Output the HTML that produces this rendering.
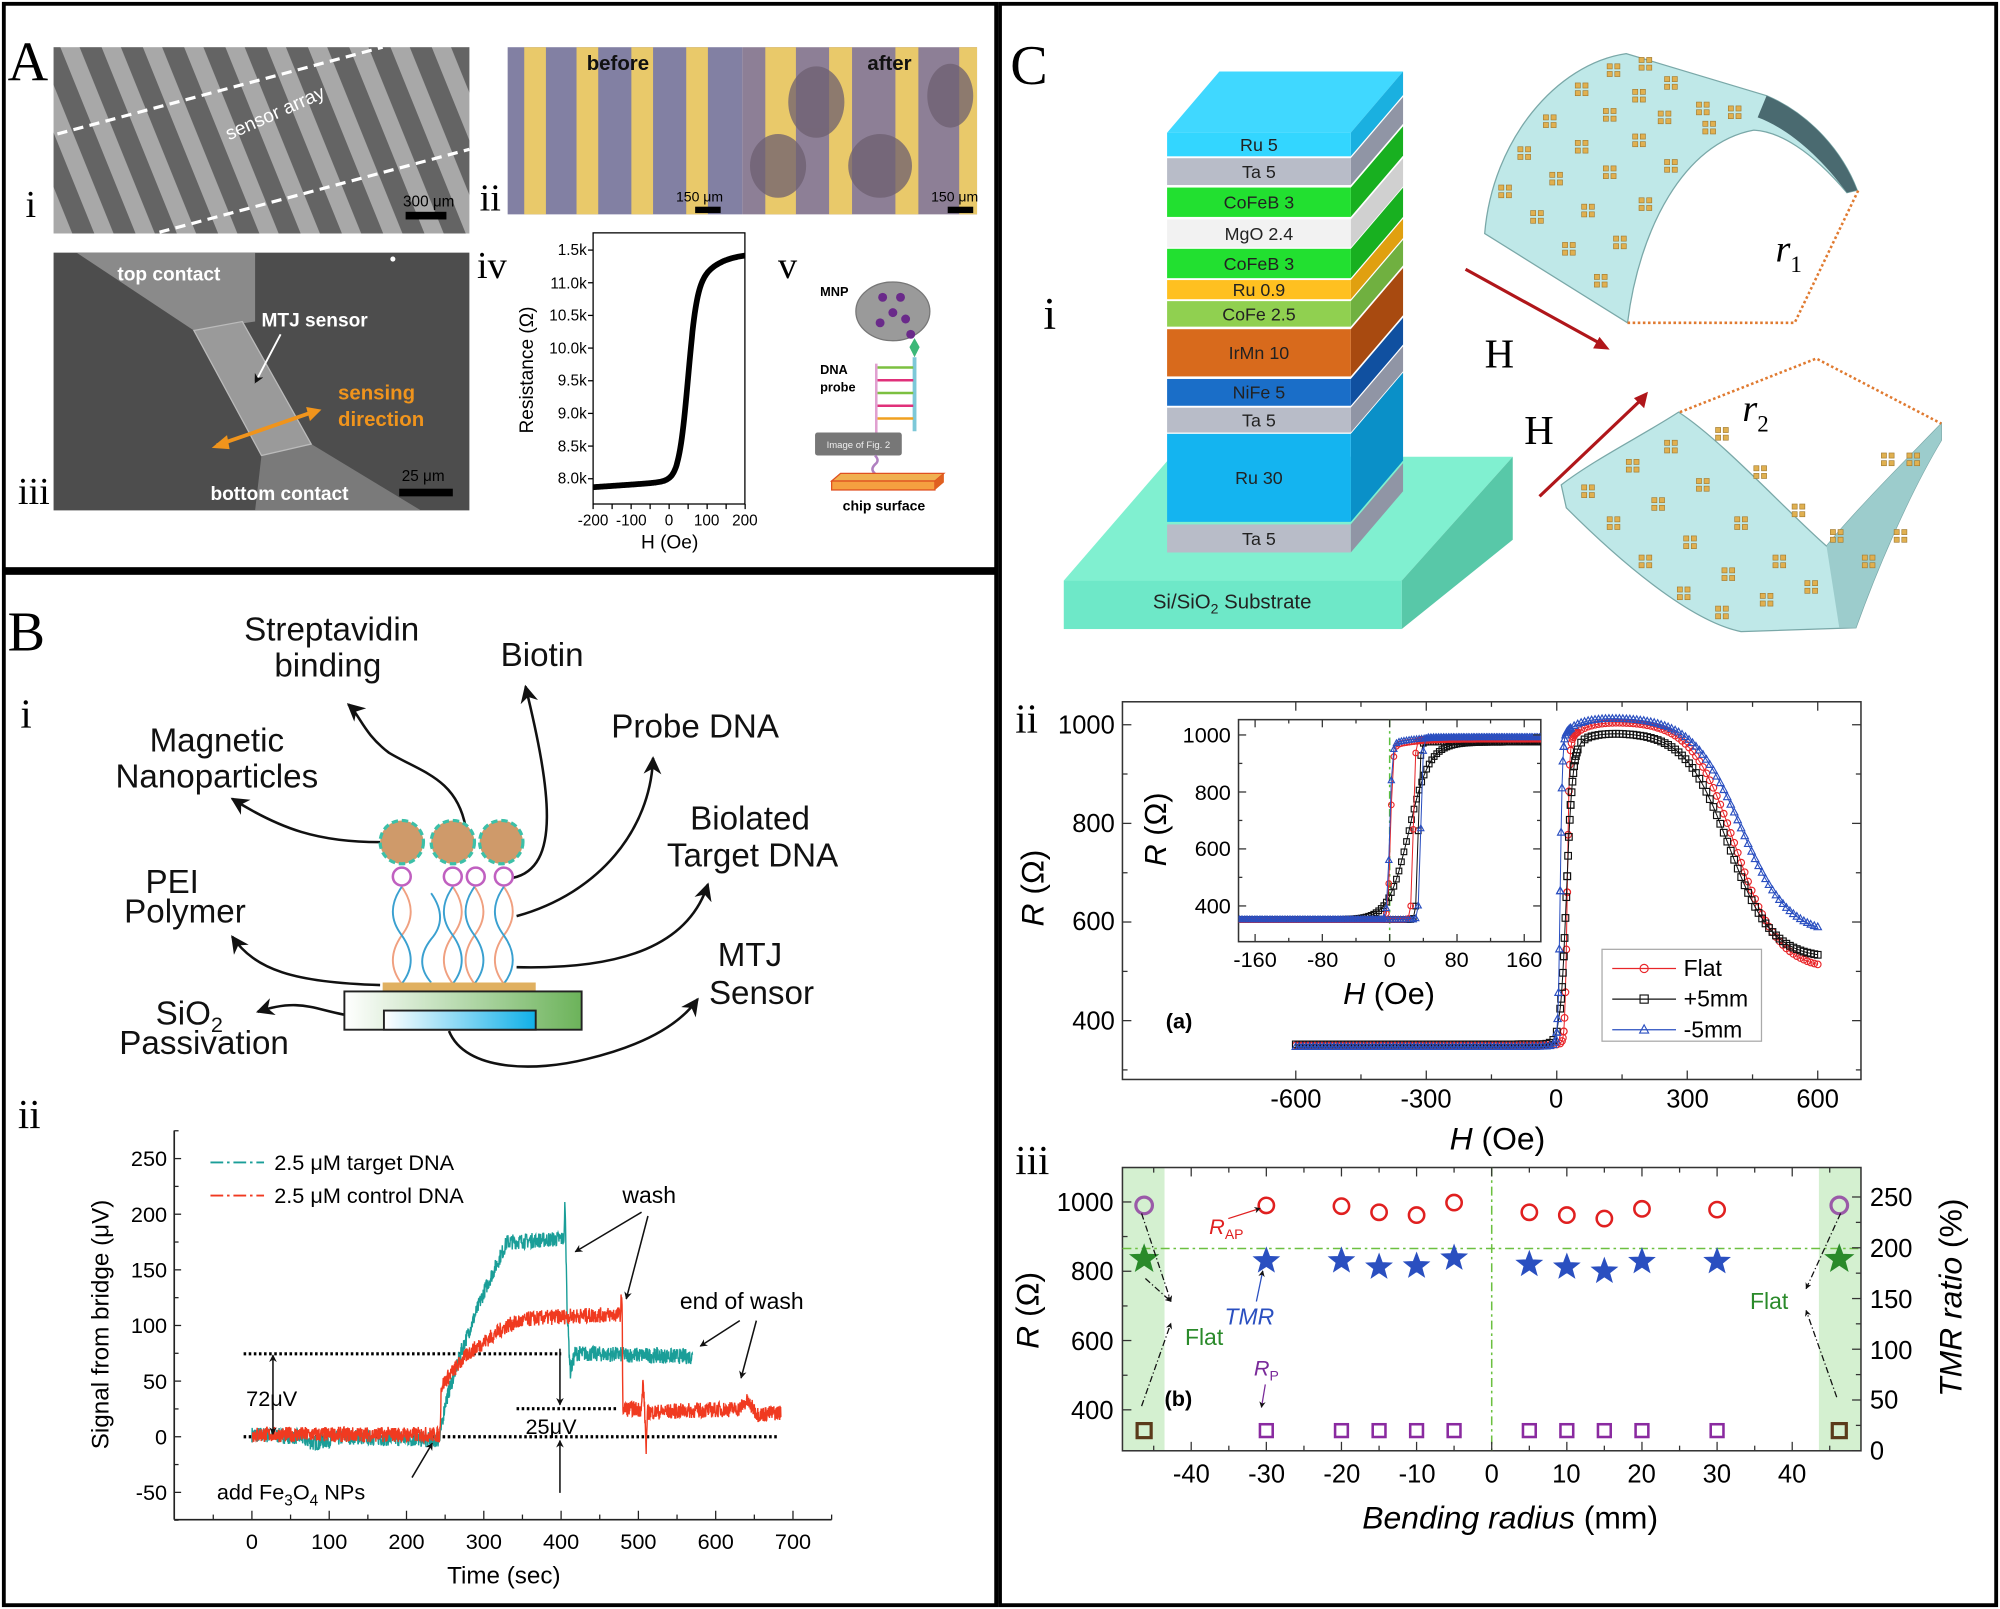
<!DOCTYPE html>
<html><head><meta charset="utf-8"><style>
html,body{margin:0;padding:0;background:#fff;}
svg{display:block;}
text{font-family:"Liberation Sans",sans-serif;}
.sf{font-family:"Liberation Serif",serif;}
</style></head><body>
<svg xmlns="http://www.w3.org/2000/svg" width="2000" height="1609" viewBox="0 0 1568 1261" preserveAspectRatio="none">
<defs>
<pattern id="stA" width="30" height="30" patternUnits="userSpaceOnUse" patternTransform="rotate(-22)">
<rect width="30" height="30" fill="#6a6a6a"/><rect x="0" width="14" height="30" fill="#c4c4c4"/></pattern>
<linearGradient id="chipg" x1="0" x2="1"><stop offset="0" stop-color="#fff"/><stop offset="1" stop-color="#6cb35a"/></linearGradient>
<linearGradient id="blueg" x1="0" x2="1"><stop offset="0" stop-color="#fff"/><stop offset="1" stop-color="#10b0e8"/></linearGradient>
<marker id="ah" viewBox="0 0 10 10" refX="9" refY="5" markerWidth="7" markerHeight="7" orient="auto-start-reverse"><path d="M0,0 L10,5 L0,10 L3,5 z" fill="#111"/></marker>
<marker id="ahs" viewBox="0 0 10 10" refX="9" refY="5" markerWidth="5" markerHeight="5" orient="auto-start-reverse"><path d="M0,0 L10,5 L0,10 L3,5 z" fill="#111"/></marker>
<clipPath id="inclip"><rect x="971" y="564" width="237" height="174"/></clipPath>
<clipPath id="mainclip"><rect x="880" y="550" width="579" height="296"/></clipPath>
</defs>
<rect width="1568" height="1261" fill="#fff"/>
<rect x="3" y="3" width="778" height="443" fill="none" stroke="#000" stroke-width="3"/>
<rect x="3" y="449" width="778" height="809" fill="none" stroke="#000" stroke-width="3"/>
<rect x="784" y="3" width="781" height="1255" fill="none" stroke="#000" stroke-width="3"/>

<!-- ===== Panel A ===== -->
<text x="6" y="63" class="sf" font-size="44">A</text>
<text x="20" y="170" class="sf" font-size="30">i</text>
<text x="376" y="165" class="sf" font-size="30">ii</text>
<text x="14" y="395" class="sf" font-size="30">iii</text>
<text x="374" y="218" class="sf" font-size="30">iv</text>
<text x="610" y="218" class="sf" font-size="30">v</text>
<rect x="42" y="37" width="326" height="146" fill="url(#stA)"/>
<rect x="42" y="37" width="326" height="146" fill="#555" opacity="0.25"/>
<line x1="45" y1="105" x2="300" y2="37" stroke="#fff" stroke-width="2.5" stroke-dasharray="8,5"/>
<line x1="125" y1="182" x2="368" y2="117" stroke="#fff" stroke-width="2.5" stroke-dasharray="8,5"/>
<text x="170" y="95" fill="#fff" font-size="15" transform="rotate(-24 210 80)">sensor array</text>
<text x="316" y="162" fill="#000" font-size="12">300 μm</text>
<rect x="318" y="166" width="32" height="6" fill="#000"/>
<rect x="398" y="37" width="184" height="131" fill="#8280a3"/>
<rect x="582" y="37" width="184" height="131" fill="#8d7f96"/>
<g fill="#e9c96a">
<rect x="411" y="37" width="17" height="131"/><rect x="452" y="37" width="17" height="131"/>
<rect x="495" y="37" width="17" height="131"/><rect x="538" y="37" width="17" height="131"/>
<rect x="600" y="37" width="24" height="131"/><rect x="650" y="37" width="18" height="131"/>
<rect x="702" y="37" width="18" height="131"/><rect x="752" y="37" width="14" height="131"/>
</g>
<g fill="#6d5f70" opacity="0.75">
<ellipse cx="640" cy="80" rx="22" ry="28"/><ellipse cx="610" cy="130" rx="22" ry="25"/><ellipse cx="690" cy="130" rx="25" ry="25"/><ellipse cx="745" cy="75" rx="18" ry="25"/>
</g>
<text x="460" y="55" font-size="16" font-weight="bold" fill="#111">before</text>
<text x="680" y="55" font-size="16" font-weight="bold" fill="#111">after</text>
<text x="530" y="158" font-size="11" fill="#000">150 μm</text><rect x="545" y="162" width="20" height="5" fill="#000"/>
<text x="730" y="158" font-size="11" fill="#000">150 μm</text><rect x="743" y="162" width="20" height="5" fill="#000"/>
<rect x="42" y="198" width="326" height="202" fill="#4d4d4d"/>
<polygon points="60,198 200,198 200,252 152,259" fill="#8a8a8a"/>
<polygon points="205,357 244,348 330,400 200,400" fill="#7a7a7a"/>
<polygon points="152,259 190,252 244,348 205,357" fill="#9a9a9a" stroke="#bbb" stroke-width="1"/>
<circle cx="308" cy="203" r="2" fill="#fff"/>
<text x="92" y="220" font-size="15" font-weight="bold" fill="#fff">top contact</text>
<text x="205" y="256" font-size="15" font-weight="bold" fill="#fff">MTJ sensor</text>
<line x1="220" y1="262" x2="200" y2="300" stroke="#fff" stroke-width="1.5" marker-end="url(#ahs)"/>
<text x="265" y="313" font-size="16" font-weight="bold" fill="#f0941c">sensing</text>
<text x="265" y="334" font-size="16" font-weight="bold" fill="#f0941c">direction</text>
<line x1="170" y1="349" x2="248" y2="322" stroke="#f0941c" stroke-width="3"/>
<polygon points="166,351 178,341 180,352" fill="#f0941c"/><polygon points="252,321 240,319 243,330" fill="#f0941c"/>
<text x="165" y="392" font-size="15" font-weight="bold" fill="#fff">bottom contact</text>
<text x="315" y="377" font-size="12" fill="#000">25 μm</text>
<rect x="313" y="383" width="42" height="6" fill="#000"/>
<rect x="465" y="182.5" width="119" height="212.5" fill="none" stroke="#000" stroke-width="1"/>
<g font-size="12" text-anchor="end" fill="#000">
<text x="460" y="200">1.5k</text><text x="460" y="226">11.0k</text><text x="460" y="251">10.5k</text><text x="460" y="277">10.0k</text>
<text x="460" y="302">9.5k</text><text x="460" y="328">9.0k</text><text x="460" y="354">8.5k</text><text x="460" y="379">8.0k</text>
</g>
<g stroke="#000" stroke-width="1" id="aivticks"></g>
<g font-size="12" text-anchor="middle"><text x="465" y="412">-200</text><text x="495" y="412">-100</text><text x="524.5" y="412">0</text><text x="554" y="412">100</text><text x="584" y="412">200</text></g>
<text x="525" y="430" font-size="15" text-anchor="middle">H (Oe)</text>
<text x="0" y="0" font-size="15" text-anchor="middle" transform="translate(418 290) rotate(-90)">Resistance (Ω)</text>
<g id="aiv"></g>
<!-- A v -->
<ellipse cx="700" cy="244" rx="29" ry="23" fill="#9a9a9a" stroke="#777"/>
<g fill="#6a2a8a"><circle cx="692" cy="233" r="3.5"/><circle cx="706" cy="233" r="3.5"/><circle cx="700" cy="245" r="3.5"/><circle cx="690" cy="253" r="3.5"/><circle cx="710" cy="250" r="3.5"/><circle cx="714" cy="262" r="3.5"/></g>
<path d="M717,265 L721,272 L717,280 L713,272 z" fill="#3cb878"/>
<text x="643" y="232" font-size="10" font-weight="bold">MNP</text>
<text x="643" y="293" font-size="10" font-weight="bold">DNA</text>
<text x="643" y="307" font-size="10" font-weight="bold">probe</text>
<line x1="717" y1="280" x2="717" y2="338" stroke="#7cc8d8" stroke-width="3"/>
<line x1="687" y1="285" x2="687" y2="340" stroke="#e0a0d0" stroke-width="2"/>
<g stroke-width="2"><line x1="688" y1="288" x2="716" y2="288" stroke="#7cc040"/><line x1="688" y1="298" x2="716" y2="298" stroke="#e0307a"/><line x1="688" y1="308" x2="716" y2="308" stroke="#7cc040"/><line x1="688" y1="318" x2="716" y2="318" stroke="#e0307a"/><line x1="688" y1="328" x2="716" y2="328" stroke="#f0a020"/></g>
<rect x="639" y="339" width="68" height="18" fill="#777" rx="2"/>
<text x="673" y="351" font-size="7.5" fill="#eee" text-anchor="middle">Image of Fig. 2</text>
<path d="M686,357 q4,4 0,7 q-4,4 0,7" stroke="#b080c0" fill="none" stroke-width="2"/>
<polygon points="652,377 733,377 740,371 659,371" fill="#f0b050" stroke="#e05020"/>
<rect x="652" y="377" width="81" height="7" fill="#f5a040" stroke="#e05020"/>
<polygon points="733,377 740,371 740,378 733,384" fill="#e06020"/>
<text x="693" y="400" font-size="11" font-weight="bold" text-anchor="middle">chip surface</text>

<!-- ===== Panel B ===== -->
<text x="6" y="510" class="sf" font-size="44">B</text>
<text x="16" y="570" class="sf" font-size="32">i</text>
<g font-size="26" text-anchor="middle" fill="#111">
<text x="260" y="502">Streptavidin</text><text x="257" y="530">binding</text>
<text x="425" y="522">Biotin</text><text x="545" y="578">Probe DNA</text>
<text x="170" y="589">Magnetic</text><text x="170" y="617">Nanoparticles</text>
<text x="588" y="650">Biolated</text><text x="590" y="679">Target DNA</text>
<text x="135" y="700">PEI</text><text x="145" y="723">Polymer</text>
<text x="588" y="757">MTJ</text><text x="597" y="787">Sensor</text>
<text x="160" y="826">Passivation</text>
</g>
<text x="122" y="803" font-size="26" fill="#111">SiO<tspan font-size="17" dy="6">2</tspan></text>
<g fill="none" stroke="#111" stroke-width="2" marker-end="url(#ah)">
<path d="M298,660 C250,660 220,650 182,626"/>
<path d="M365,648 C358,610 330,605 305,590 C285,575 282,560 273,552"/>
<path d="M402,688 C440,680 432,620 412,538"/>
<path d="M405,718 C470,700 510,650 512,594"/>
<path d="M405,758 C490,760 540,740 555,693"/>
<path d="M298,772 C230,770 200,760 182,734"/>
<path d="M285,797 C250,795 240,780 202,793"/>
<path d="M352,808 C365,840 420,840 460,830 C510,818 535,800 547,783"/>
</g>
<g stroke-width="1.5" fill="none">
<path d="M315,695 q14,20 0,38 q-14,20 0,38" stroke="#f0a080"/><path d="M315,695 q-14,20 0,38 q14,20 0,38" stroke="#3aa0d0"/>
<path d="M338,700 q14,20 0,36 q-14,18 0,34" stroke="#3aa0d0"/>
<path d="M355,695 q14,20 0,38 q-14,20 0,38" stroke="#f0a080"/><path d="M355,695 q-14,20 0,38 q14,20 0,38" stroke="#3aa0d0"/>
<path d="M372,695 q14,20 0,38 q-14,20 0,38" stroke="#f0a080"/><path d="M372,695 q-14,20 0,38 q14,20 0,38" stroke="#3aa0d0"/>
<path d="M395,695 q14,20 0,38 q-14,20 0,38" stroke="#f0a080"/><path d="M395,695 q-14,20 0,38 q14,20 0,38" stroke="#3aa0d0"/>
</g>
<g fill="#fff" stroke="#c060c0" stroke-width="2"><circle cx="315" cy="687" r="7"/><circle cx="355" cy="687" r="7"/><circle cx="373" cy="687" r="7"/><circle cx="395" cy="687" r="7"/></g>
<g fill="#cf9a6a" stroke="#3cc0a8" stroke-width="2.5" stroke-dasharray="5,3"><circle cx="315" cy="660" r="17"/><circle cx="355" cy="660" r="17"/><circle cx="393" cy="660" r="17"/></g>
<rect x="300" y="770" width="120" height="7" fill="#e0b060"/>
<rect x="270" y="777" width="186" height="30" fill="url(#chipg)" stroke="#222" stroke-width="1.5"/>
<rect x="301" y="792" width="119" height="15" fill="url(#blueg)" stroke="#222" stroke-width="1.5"/>

<!-- B ii -->
<text x="14" y="884" class="sf" font-size="32">ii</text>
<line x1="136.6" y1="886" x2="136.6" y2="1191" stroke="#222" stroke-width="1.3"/>
<line x1="136.6" y1="1191" x2="652" y2="1191" stroke="#222" stroke-width="1.3"/>
<g id="biiticks" stroke="#222" stroke-width="1"></g>
<g font-size="17" text-anchor="end" id="biiyl"></g>
<g font-size="17" text-anchor="middle" id="biixl"></g>
<text x="395" y="1241" font-size="19" text-anchor="middle">Time (sec)</text>
<text x="0" y="0" font-size="19" text-anchor="middle" transform="translate(85 1038) rotate(-90)">Signal from bridge (μV)</text>
<g stroke="#000" stroke-width="2.5" stroke-dasharray="2,2">
<line x1="191" y1="1061" x2="440" y2="1061"/><line x1="191" y1="1126" x2="610" y2="1126"/><line x1="405" y1="1104" x2="485" y2="1104"/>
</g>
<g id="bii"></g>
<line x1="165" y1="911" x2="207" y2="911" stroke="#1a9e98" stroke-width="1.5" stroke-dasharray="10,3,2,3"/>
<line x1="165" y1="937" x2="207" y2="937" stroke="#f03a20" stroke-width="1.5" stroke-dasharray="10,3,2,3"/>
<text x="215" y="917" font-size="17">2.5 μM target DNA</text>
<text x="215" y="943" font-size="17">2.5 μM control DNA</text>
<text x="488" y="943" font-size="18">wash</text>
<text x="533" y="1026" font-size="18">end of wash</text>
<text x="193" y="1102" font-size="17">72μV</text>
<text x="412" y="1124" font-size="17">25μV</text>
<text x="170" y="1175" font-size="17">add Fe<tspan font-size="12" dy="5">3</tspan><tspan dy="-5">O</tspan><tspan font-size="12" dy="5">4</tspan><tspan dy="-5"> NPs</tspan></text>
<g stroke="#111" stroke-width="1.2" fill="none" marker-end="url(#ahs)">
<line x1="503" y1="950" x2="451" y2="981"/><line x1="508" y1="953" x2="491" y2="1018"/>
<line x1="580" y1="1035" x2="549" y2="1055"/><line x1="593" y1="1035" x2="581" y2="1080"/>
<line x1="323" y1="1158" x2="339" y2="1131"/>
<line x1="214" y1="1093" x2="214" y2="1062"/><line x1="214" y1="1093" x2="214" y2="1124"/>
<line x1="439" y1="1057" x2="439" y2="1101"/><line x1="439" y1="1170" x2="439" y2="1129"/>
</g>

<!-- ===== Panel C ===== -->
<text x="792" y="66" class="sf" font-size="44">C</text>
<text x="818" y="258" class="sf" font-size="36">i</text>
<polygon points="834,455 1099,455 1186,358 918,358" fill="#80f0d0"/>
<rect x="834" y="455" width="265" height="38" fill="#6ee8c8"/>
<polygon points="1099,455 1186,358 1186,423 1099,493" fill="#58c8a8"/>
<text x="966" y="477" font-size="16" text-anchor="middle" fill="#222">Si/SiO<tspan font-size="11" dy="4">2</tspan><tspan dy="-4"> Substrate</tspan></text>
<g id="stack"></g>
<!-- top sheet (arch) -->
<path d="M1164,183 C1170,110 1220,50 1275,42 L1385,75 C1420,90 1445,120 1456,149 L1448,151 C1420,118 1395,103 1375,102 C1320,112 1285,180 1276,253 Z" fill="#bfe8e8" stroke="#7aa8a8"/>
<path d="M1385,75 C1420,90 1445,120 1456,149 L1448,151 C1425,120 1400,100 1378,92 Z" fill="#4a6a70"/>
<!-- bottom sheet (trough) -->
<path d="M1316,323 C1290,340 1250,360 1224,380 L1228,398 C1280,450 1330,488 1365,495 L1455,492 C1470,450 1495,390 1522,345 L1522,332 C1490,365 1455,400 1432,428 C1400,400 1350,345 1316,323 Z" fill="#bfe8e8" stroke="#7aa8a8"/>
<path d="M1432,428 C1455,400 1490,365 1522,332 L1522,345 C1495,390 1470,450 1455,492 L1442,492 Z" fill="#9ccccc"/>
<g id="crosses"></g>
<g stroke="#e07a30" stroke-width="2" stroke-dasharray="2,2" fill="none">
<polyline points="1276,253 1407,253 1457,149"/><polyline points="1317,323 1424,281 1522,332"/>
</g>
<text x="1392" y="205" class="sf" font-size="30" font-style="italic">r<tspan font-size="18" dy="8" font-style="normal">1</tspan></text>
<text x="1366" y="330" class="sf" font-size="30" font-style="italic">r<tspan font-size="18" dy="8" font-style="normal">2</tspan></text>
<line x1="1149" y1="211" x2="1256" y2="270" stroke="#b0161a" stroke-width="2.5"/>
<polygon points="1262,274 1249,273 1254,264" fill="#b0161a"/>
<line x1="1207" y1="389" x2="1288" y2="312" stroke="#b0161a" stroke-width="2.5"/>
<polygon points="1292,307 1289,320 1281,312" fill="#b0161a"/>
<text x="1164" y="288" class="sf" font-size="32">H</text>
<text x="1195" y="348" class="sf" font-size="32">H</text>

<!-- C ii -->
<text x="796" y="574" class="sf" font-size="32">ii</text>
<rect x="880" y="550" width="579" height="296" fill="none" stroke="#333" stroke-width="1.2"/>
<g id="ciiticks" stroke="#333" stroke-width="1"></g>
<g font-size="20" text-anchor="end"><text x="874" y="575">1000</text><text x="874" y="652">800</text><text x="874" y="729">600</text><text x="874" y="807">400</text></g>
<g font-size="20" text-anchor="middle"><text x="1016" y="868">-600</text><text x="1118" y="868">-300</text><text x="1220" y="868">0</text><text x="1323" y="868">300</text><text x="1425" y="868">600</text></g>
<text x="1174" y="901" font-size="25" text-anchor="middle"><tspan font-style="italic">H</tspan> (Oe)</text>
<text x="0" y="0" font-size="25" text-anchor="middle" transform="translate(818 696) rotate(-90)"><tspan font-style="italic">R</tspan> (Ω)</text>
<text x="914" y="806" font-size="17" font-weight="bold">(a)</text>
<g id="ciimain" clip-path="url(#mainclip)"></g>
<rect x="971" y="564" width="237" height="174" fill="#fff" stroke="#333" stroke-width="1.2"/>
<line x1="1089.5" y1="564" x2="1089.5" y2="738" stroke="#5cc040" stroke-width="1.2" stroke-dasharray="6,3,2,3"/>
<g id="ciiinset" clip-path="url(#inclip)"></g>
<g id="insticks" stroke="#333" stroke-width="1"></g>
<g font-size="17" text-anchor="end"><text x="965" y="582">1000</text><text x="965" y="627">800</text><text x="965" y="671">600</text><text x="965" y="716">400</text></g>
<g font-size="17" text-anchor="middle"><text x="984" y="758">-160</text><text x="1037" y="758">-80</text><text x="1089.5" y="758">0</text><text x="1142" y="758">80</text><text x="1195" y="758">160</text></g>
<text x="1089" y="787" font-size="24" text-anchor="middle"><tspan font-style="italic">H</tspan> (Oe)</text>
<text x="0" y="0" font-size="24" text-anchor="middle" transform="translate(914 650) rotate(-90)"><tspan font-style="italic">R</tspan> (Ω)</text>
<rect x="1256" y="744" width="125" height="72" fill="#fff" stroke="#aaa"/>
<g id="legend"></g>
<g font-size="18"><text x="1320" y="765">Flat</text><text x="1320" y="789">+5mm</text><text x="1320" y="813">-5mm</text></g>

<!-- C iii -->
<text x="796" y="920" class="sf" font-size="32">iii</text>
<rect x="880" y="915" width="33" height="222" fill="#d4f0d0"/>
<rect x="1426" y="915" width="33" height="222" fill="#d4f0d0"/>
<rect x="880" y="915" width="579" height="222" fill="none" stroke="#333" stroke-width="1.2"/>
<line x1="880" y1="978.5" x2="1459" y2="978.5" stroke="#6cc040" stroke-width="1.2" stroke-dasharray="7,3,2,3"/>
<line x1="1169.5" y1="915" x2="1169.5" y2="1137" stroke="#6cc040" stroke-width="1.2" stroke-dasharray="7,3,2,3"/>
<g id="ciiiticks" stroke="#333" stroke-width="1"></g>
<g font-size="20" text-anchor="end"><text x="873" y="949">1000</text><text x="873" y="1003">800</text><text x="873" y="1058">600</text><text x="873" y="1112">400</text></g>
<g font-size="20" text-anchor="start"><text x="1466" y="945">250</text><text x="1466" y="985">200</text><text x="1466" y="1025">150</text><text x="1466" y="1065">100</text><text x="1466" y="1104">50</text><text x="1466" y="1144">0</text></g>
<g font-size="20" text-anchor="middle"><text x="934" y="1162">-40</text><text x="993" y="1162">-30</text><text x="1052" y="1162">-20</text><text x="1111" y="1162">-10</text><text x="1169.5" y="1162">0</text><text x="1228" y="1162">10</text><text x="1287" y="1162">20</text><text x="1346" y="1162">30</text><text x="1405" y="1162">40</text></g>
<text x="1184" y="1198" font-size="25" text-anchor="middle"><tspan font-style="italic">Bending radius</tspan> (mm)</text>
<text x="0" y="0" font-size="25" text-anchor="middle" transform="translate(814 1027) rotate(-90)"><tspan font-style="italic">R</tspan> (Ω)</text>
<text x="0" y="0" font-size="25" text-anchor="middle" transform="translate(1538 1017) rotate(-90)"><tspan font-style="italic">TMR ratio</tspan> (%)</text>
<g id="ciii"></g>
<text x="948" y="967" font-size="17" fill="#e02020" font-style="italic">R<tspan font-size="11" dy="4" font-style="normal">AP</tspan></text>
<line x1="963" y1="955" x2="988" y2="947" stroke="#e02020" stroke-width="1" marker-end="url(#ahs)"/>
<text x="960" y="1038" font-size="18" fill="#2a4fc0" font-style="italic">TMR</text>
<line x1="985" y1="1020" x2="990" y2="996" stroke="#2a4fc0" stroke-width="1" marker-end="url(#ahs)"/>
<text x="983" y="1078" font-size="17" fill="#7a2a9a" font-style="italic">R<tspan font-size="11" dy="4" font-style="normal">P</tspan></text>
<line x1="992" y1="1085" x2="989" y2="1103" stroke="#7a2a9a" stroke-width="1" marker-end="url(#ahs)"/>
<text x="929" y="1054" font-size="18" fill="#2a8a2a">Flat</text>
<text x="1372" y="1026" font-size="18" fill="#2a8a2a">Flat</text>
<text x="913" y="1102" font-size="17" font-weight="bold">(b)</text>
<g stroke="#111" stroke-width="1" stroke-dasharray="5,2,1,2" fill="none" marker-end="url(#ahs)">
<line x1="895" y1="951" x2="918" y2="1020"/><line x1="898" y1="1002" x2="918" y2="1020"/><line x1="895" y1="1102" x2="918" y2="1037"/>
<line x1="1443" y1="951" x2="1416" y2="1010"/><line x1="1440" y1="1095" x2="1416" y2="1027"/>
</g>
</svg>
<script>
function $(id){return document.getElementById(id);}
function add(id,h){$(id).insertAdjacentHTML('beforeend',h);}
function sig(x){return 1/(1+Math.exp(-x));}
var seed=7;function rnd(){seed=(seed*16807)%2147483647;return seed/2147483647;}
function f(v){return v.toFixed(1);}
(function(){var d='',h,R;for(h=-200;h<=200;h+=2){R=7.87+0.0004*(h+200)+3.0*sig((h-50)/12)+0.4*sig((h-100)/30);d+=(h==-200?'M':'L')+f(524.5+h*0.2975)+','+f(196+(11.5-R)*51.2);}
add('aiv','<path d="'+d+'" fill="none" stroke="#000" stroke-width="4.5"/>');
var t='';for(var i=0;i<8;i++){var y=196+i*25.6;t+='<line x1="465" y1="'+y+'" x2="461" y2="'+y+'"/>';}
for(var x=465;x<=585;x+=14.9){t+='<line x1="'+x+'" y1="395" x2="'+x+'" y2="399"/>';}
add('aivticks',t);})();
(function(){
var X=function(t){return 197.5+t*0.606},Y=function(v){return 1126-v*0.872};
function interp(tb,t){for(var i=0;i<tb.length-1;i++){if(t>=tb[i][0]&&t<=tb[i+1][0]){var a=tb[i],b=tb[i+1];return a[1]+(b[1]-a[1])*(t-a[0])/(b[0]-a[0]);}}return tb[tb.length-1][1];}
var teal=[[0,2],[60,0],[80,-6],[120,0],[240,-3],[243,-2],[250,30],[270,75],[300,130],[330,175],[404,178],[405,215],[406,178],[408,110],[412,58],[418,75],[570,72]];
var red=[[0,2],[240,2],[243,0],[245,45],[255,55],[280,75],[300,85],[330,100],[360,106],[400,108],[477,110],[478,130],[479,110],[480,25],[504,25],[506,50],[508,25],[510,-10],[512,22],[630,25],[640,32],[655,20],[685,22]];
function mk(tb,end,col,amp){var d='';for(var t=0;t<=end;t+=0.4){var v=interp(tb,t)+(rnd()-0.5)*amp;d+=(t==0?'M':'L')+f(X(t))+','+f(Y(v));}return '<path d="'+d+'" fill="none" stroke="'+col+'" stroke-width="1.1"/>';}
add('bii',mk(teal,570,'#1a9e98',14)+mk(red,685,'#f03a20',14));
var tk='';for(var v=-75;v<=275;v+=25){var y=Y(v);if(y<886)continue;tk+='<line x1="136.6" y1="'+f(y)+'" x2="'+(v%50==0?142:140)+'" y2="'+f(y)+'"/>';}
for(var t=-100;t<=750;t+=50){var x=X(t);if(x<137||x>652)continue;tk+='<line x1="'+f(x)+'" y1="1191" x2="'+f(x)+'" y2="'+(t%100==0?1184:1187)+'"/>';}
add('biiticks',tk);
var yl='';for(var v=-50;v<=250;v+=50)yl+='<text x="131" y="'+f(Y(v)+6)+'">'+v+'</text>';add('biiyl',yl);
var xl='';for(var t=0;t<=700;t+=100)xl+='<text x="'+f(X(t))+'" y="1214">'+t+'</text>';add('biixl',xl);
})();
(function(){
var L=[['Ru 5',104,122.5,'#33d6ff','#1ab0e0'],['Ta 5',124,145,'#b8bcc8','#9095a5'],['CoFeB 3',147,170,'#22e030','#18b020'],['MgO 2.4',172,194,'#f2f2f2','#d0d0d0'],['CoFeB 3',195,218,'#22e030','#18b020'],['Ru 0.9',219.5,234.5,'#ffc020','#e0a010'],['CoFe 2.5',236,256,'#90d050','#70b040'],['IrMn 10',258,295,'#d86a1c','#a84a10'],['NiFe 5',297,318,'#1a6ec8','#1050a0'],['Ta 5',319.5,339,'#b8bcc8','#9095a5'],['Ru 30',340,409,'#14b4f0','#0a90c8'],['Ta 5',411,433,'#b8bcc8','#9095a5']];
var s='';var x0=915,x1=1059,dx=41,dy=-48;
s+='<polygon points="'+x0+',104 '+x1+',104 '+(x1+dx)+','+(104+dy)+' '+(x0+dx)+','+(104+dy)+'" fill="#40d8ff"/>';
L.forEach(function(l){s+='<polygon points="'+x1+','+l[1]+' '+(x1+dx)+','+(l[1]+dy)+' '+(x1+dx)+','+(l[2]+dy)+' '+x1+','+l[2]+'" fill="'+l[4]+'"/>';
s+='<rect x="'+x0+'" y="'+l[1]+'" width="'+(x1-x0)+'" height="'+(l[2]-l[1])+'" fill="'+l[3]+'"/>';
s+='<text x="'+((x0+x1)/2)+'" y="'+((l[1]+l[2])/2+5)+'" font-size="14" text-anchor="middle" fill="#222">'+l[0]+'</text>';});
add('stack',s);
var c='';function cross(x,y){c+='<g fill="#e0b050" stroke="#a07a30" stroke-width="0.5"><rect x="'+(x-5)+'" y="'+(y-5)+'" width="4" height="4"/><rect x="'+(x+1)+'" y="'+(y-5)+'" width="4" height="4"/><rect x="'+(x-5)+'" y="'+(y+1)+'" width="4" height="4"/><rect x="'+(x+1)+'" y="'+(y+1)+'" width="4" height="4"/></g>';}
var pts=[[1180,150],[1195,120],[1215,95],[1240,70],[1265,55],[1290,50],[1205,170],[1220,140],[1240,115],[1262,90],[1285,75],[1310,65],[1230,195],[1245,165],[1262,135],[1285,110],[1305,92],[1335,85],[1255,220],[1270,190],[1290,160],[1310,130],[1340,100],[1360,88],
[1245,385],[1265,410],[1290,440],[1320,465],[1350,480],[1280,365],[1300,395],[1325,425],[1355,450],[1385,470],[1310,350],[1335,380],[1365,410],[1395,440],[1420,460],[1350,340],[1380,370],[1410,400],[1440,420],[1480,360],[1500,360],[1490,420],[1465,440]];
pts.forEach(function(p){cross(p[0],p[1]);});add('crosses',c);
})();
function mark(type,x,y,col,sz){sz=sz||2.6;
if(type=='c')return '<circle cx="'+f(x)+'" cy="'+f(y)+'" r="'+sz+'" fill="none" stroke="'+col+'" stroke-width="0.9"/>';
if(type=='s')return '<rect x="'+f(x-sz)+'" y="'+f(y-sz)+'" width="'+(2*sz)+'" height="'+(2*sz)+'" fill="none" stroke="'+col+'" stroke-width="0.9"/>';
return '<path d="M'+f(x)+','+f(y-sz*1.2)+' L'+f(x+sz*1.1)+','+f(y+sz*0.8)+' L'+f(x-sz*1.1)+','+f(y+sz*0.8)+' Z" fill="none" stroke="'+col+'" stroke-width="0.9"/>';}
(function(){
var X=function(h){return 1220.5+h*0.341},Y=function(R){return 568+(1000-R)*0.3865};
var S=[{col:'#e8262a',low:350,hj:24,w:2.5,Rmax:1000,Rmin:495,c:410,d:50,m:'c'},{col:'#111',low:352,hj:22,w:7,Rmax:978,Rmin:518,c:395,d:50,m:'s'},{col:'#2a4fc0',low:347,hj:8,w:2.5,Rmax:1008,Rmin:565,c:422,d:55,m:'t'}];
var out='';
S.forEach(function(s){var hs=[];for(var h=-600;h<=600;h+=8)hs.push(h);for(var h=s.hj-12;h<=s.hj+24;h+=2)hs.push(h);hs.sort(function(a,b){return a-b});
var d='',mk='';hs.forEach(function(h,i){var hi=s.Rmin+(s.Rmax-s.Rmin)*sig(-(h-s.c)/s.d)-45*Math.exp(-Math.max(0,h-s.hj)/35);var R=s.low+8*Math.exp((h-s.hj)/15>0?0:(h-s.hj)/15)+(hi-s.low)*sig((h-s.hj)/s.w);
d+=(i?'L':'M')+f(X(h))+','+f(Y(R));mk+=mark(s.m,X(h),Y(R),s.col);});
out+='<path d="'+d+'" fill="none" stroke="'+s.col+'" stroke-width="0.8"/>'+mk;});
add('ciimain',out);
var t='';[-600,-450,-300,-150,0,150,300,450,600].forEach(function(h,i){var x=X(h),L=i%2?4:7;t+='<line x1="'+f(x)+'" y1="846" x2="'+f(x)+'" y2="'+(846-L)+'"/><line x1="'+f(x)+'" y1="550" x2="'+f(x)+'" y2="'+(550+L)+'"/>';});
[300,400,500,600,700,800,900,1000].forEach(function(R,i){var y=Y(R),L=R%200==0?7:4;t+='<line x1="880" y1="'+f(y)+'" x2="'+(880+L)+'" y2="'+f(y)+'"/><line x1="1459" y1="'+f(y)+'" x2="'+(1459-L)+'" y2="'+f(y)+'"/>';});
add('ciiticks',t);
var Xi=function(h){return 1089.5+h*0.6594},Yi=function(R){return 576+(1000-R)*0.2233};
var I=[{col:'#111',hu:22,wu:12,hd:34,top:975,m:'s'},{col:'#e8262a',hu:1,wu:1.5,hd:28,top:985,m:'c'},{col:'#2a4fc0',hu:0,wu:1.5,hd:37,top:992,m:'t'}];
var o='';I.forEach(function(s){var d='',mk='',i=0;
for(var h=-184;h<=184;h+=3){var R=352+(s.top-352)*sig((h-s.hu)/s.wu)-25*Math.exp(-Math.max(0,h-s.hu)/25)*sig((h-s.hu)/s.wu);d+=(i++?'L':'M')+f(Xi(h))+','+f(Yi(R));mk+=mark(s.m,Xi(h),Yi(R),s.col,2.2);}
for(var h=184;h>=-184;h-=3){var R=352+(s.top-352)*sig((h-s.hd)/1.2);d+='L'+f(Xi(h))+','+f(Yi(R));mk+=mark(s.m,Xi(h),Yi(R),s.col,2.2);}
o+='<path d="'+d+'" fill="none" stroke="'+s.col+'" stroke-width="0.8"/>'+mk;});
add('ciiinset',o);
var it='';[-160,-120,-80,-40,0,40,80,120,160].forEach(function(h,i){var x=Xi(h),L=i%2?3:6;it+='<line x1="'+f(x)+'" y1="738" x2="'+f(x)+'" y2="'+(738-L)+'"/><line x1="'+f(x)+'" y1="564" x2="'+f(x)+'" y2="'+(564+L)+'"/>';});
[400,500,600,700,800,900,1000].forEach(function(R){var y=Yi(R),L=R%200==0?6:3;it+='<line x1="971" y1="'+f(y)+'" x2="'+(971+L)+'" y2="'+f(y)+'"/><line x1="1208" y1="'+f(y)+'" x2="'+(1208-L)+'" y2="'+f(y)+'"/>';});
add('insticks',it);
var lg='';[['#e8262a','c',759],['#111','s',783],['#2a4fc0','t',807]].forEach(function(a){lg+='<line x1="1264" y1="'+a[2]+'" x2="1314" y2="'+a[2]+'" stroke="'+a[0]+'" stroke-width="1"/>'+mark(a[1],1289,a[2],a[0],3.2);});
add('legend',lg);
})();
(function(){
var X=function(r){return 1169.5+r*5.89},Y=function(R){return 942+(1000-R)*0.2715};
var rap=[[-30,990],[-20,988],[-15,970],[-10,962],[-5,998],[5,970],[10,962],[15,952],[20,980],[30,978]];
var tmr=[[-30,830],[-20,830],[-15,812],[-10,815],[-5,838],[5,820],[10,812],[15,800],[20,828],[30,828]];
function star(x,y,r,col,fill){var p='';for(var i=0;i<10;i++){var a=-Math.PI/2+i*Math.PI/5,rr=i%2?r*0.42:r;p+=(i?'L':'M')+f(x+rr*Math.cos(a))+','+f(y+rr*Math.sin(a));}return '<path d="'+p+'Z" fill="'+fill+'" stroke="'+col+'" stroke-width="1"/>';}
var o='';
rap.forEach(function(p){o+='<circle cx="'+f(X(p[0]))+'" cy="'+f(Y(p[1]))+'" r="6" fill="none" stroke="#e02020" stroke-width="2"/>';});
tmr.forEach(function(p){o+=star(X(p[0]),Y(p[1]),10,'#2a4fc0','#2a4fc0');});
rap.forEach(function(p){o+='<rect x="'+f(X(p[0])-5)+'" y="'+f(Y(340)-5)+'" width="10" height="10" fill="none" stroke="#8a2aa0" stroke-width="2"/>';});
[897,1442].forEach(function(x){o+='<circle cx="'+x+'" cy="'+f(Y(990))+'" r="6.5" fill="none" stroke="#9a5aa8" stroke-width="2.5"/>';o+=star(x,Y(835),11,'#2a8a2a','#2a8a2a');o+='<rect x="'+(x-5.5)+'" y="'+f(Y(340)-5.5)+'" width="11" height="11" fill="none" stroke="#5a3a1a" stroke-width="2.5"/>';});
add('ciii',o);
var t='';for(var r=-45;r<=45;r+=5){var x=X(r),L=r%10==0?7:4;t+='<line x1="'+f(x)+'" y1="1137" x2="'+f(x)+'" y2="'+(1137-L)+'"/><line x1="'+f(x)+'" y1="915" x2="'+f(x)+'" y2="'+(915+L)+'"/>';}
[400,500,600,700,800,900,1000].forEach(function(R){var y=Y(R),L=R%200==0?7:4;t+='<line x1="880" y1="'+f(y)+'" x2="'+(880+L)+'" y2="'+f(y)+'"/>';});
for(var p=0;p<=250;p+=25){var y=1137-p*0.7956,L=p%50==0?7:4;t+='<line x1="1459" y1="'+f(y)+'" x2="'+(1459-L)+'" y2="'+f(y)+'"/>';}
add('ciiiticks',t);
})();
</script>
</body></html>
